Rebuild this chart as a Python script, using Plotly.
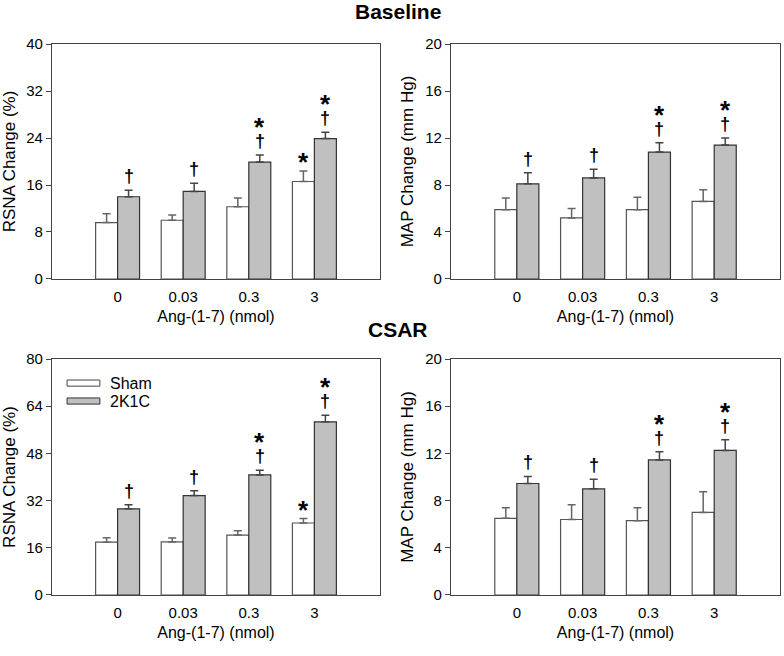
import plotly.graph_objects as go
from plotly.subplots import make_subplots

# Ang-(1-7) doses (nmol)
doses = ["0", "0.03", "0.3", "3"]

# Baseline - RSNA change (%)
base_rsna_sham = [9.6, 10.0, 12.3, 16.6]
base_rsna_sham_err = [1.5, 0.9, 1.5, 1.8]
base_rsna_2k1c = [14.0, 14.9, 19.9, 23.9]
base_rsna_2k1c_err = [1.1, 1.4, 1.2, 1.1]

# Baseline - MAP change (mm Hg)
base_map_sham = [5.9, 5.2, 5.9, 6.6]
base_map_sham_err = [1.0, 0.8, 1.05, 1.0]
base_map_2k1c = [8.1, 8.6, 10.8, 11.4]
base_map_2k1c_err = [0.95, 0.75, 0.8, 0.6]

# CSAR - RSNA change (%)
csar_rsna_sham = [17.9, 18.0, 20.3, 24.4]
csar_rsna_sham_err = [1.5, 1.3, 1.5, 1.5]
csar_rsna_2k1c = [29.2, 33.7, 40.7, 58.7]
csar_rsna_2k1c_err = [1.4, 1.6, 1.6, 2.2]

# CSAR - MAP change (mm Hg)
csar_map_sham = [6.5, 6.4, 6.3, 7.0]
csar_map_sham_err = [0.9, 1.25, 1.1, 1.75]
csar_map_2k1c = [9.45, 9.0, 11.45, 12.25]
csar_map_2k1c_err = [0.6, 0.8, 0.7, 0.9]

# significance marks: * vs 0 dose, † vs sham
sham_star_rsna = [False, False, False, True]
sham_star_map = [False, False, False, False]
k1c_star = [False, False, True, True]
k1c_dagger = [True, True, True, True]

FONT = "Liberation Sans, Arial, sans-serif"
BARGAP = 0.33
bar_w = (1 - BARGAP) / 2
pos = list(range(len(doses)))

panels = [
    # (row, col, sham, sham_err, k1c, k1c_err, ymax, ytitle, sham_star)
    (1, 1, base_rsna_sham, base_rsna_sham_err, base_rsna_2k1c, base_rsna_2k1c_err,
     40, "RSNA Change (%)", sham_star_rsna),
    (1, 2, base_map_sham, base_map_sham_err, base_map_2k1c, base_map_2k1c_err,
     20, "MAP Change (mm Hg)", sham_star_map),
    (2, 1, csar_rsna_sham, csar_rsna_sham_err, csar_rsna_2k1c, csar_rsna_2k1c_err,
     80, "RSNA Change (%)", sham_star_rsna),
    (2, 2, csar_map_sham, csar_map_sham_err, csar_map_2k1c, csar_map_2k1c_err,
     20, "MAP Change (mm Hg)", sham_star_map),
]

fig = make_subplots(rows=2, cols=2)

annotations = []
for idx, (r, c, sham, sham_err, k1c, k1c_err, ymax, ytitle, s_star) in enumerate(panels):
    fig.add_trace(go.Bar(
        x=pos, y=sham, name="Sham", offsetgroup="sham",
        marker=dict(color="white", line=dict(color="#555555", width=1.2)),
        error_y=dict(type="data", symmetric=False, array=sham_err,
                     arrayminus=[0] * len(sham), color="#666666",
                     thickness=1.5, width=4),
        showlegend=False,
    ), row=r, col=c)
    fig.add_trace(go.Bar(
        x=pos, y=k1c, name="2K1C", offsetgroup="k1c",
        marker=dict(color="#c0c0c0", line=dict(color="#333333", width=1.2)),
        error_y=dict(type="data", symmetric=False, array=k1c_err,
                     arrayminus=[0] * len(k1c), color="#444444",
                     thickness=1.5, width=4),
        showlegend=False,
    ), row=r, col=c)

    xref = "x" if idx == 0 else f"x{idx + 1}"
    yref = "y" if idx == 0 else f"y{idx + 1}"
    for i in pos:
        top_k = k1c[i] + k1c_err[i]
        top_s = sham[i] + sham_err[i]
        if k1c_dagger[i]:
            annotations.append(dict(
                x=i + bar_w / 2, y=top_k, xref=xref, yref=yref, text="<b>†</b>",
                showarrow=False, yanchor="bottom", yshift=2,
                font=dict(family=FONT, size=18, color="black")))
        if k1c_star[i]:
            annotations.append(dict(
                x=i + bar_w / 2, y=top_k, xref=xref, yref=yref, text="<b>*</b>",
                showarrow=False, yanchor="bottom", yshift=11,
                font=dict(family=FONT, size=26, color="black")))
        if s_star[i]:
            annotations.append(dict(
                x=i - bar_w / 2, y=top_s, xref=xref, yref=yref, text="<b>*</b>",
                showarrow=False, yanchor="bottom", yshift=-8,
                font=dict(family=FONT, size=26, color="black")))

    fig.update_yaxes(
        range=[0, ymax], dtick=ymax / 5, ticks="outside", ticklen=5,
        tickcolor="#444444", showline=True, linecolor="#444444", linewidth=1.2,
        mirror=True, showgrid=False, zeroline=False, automargin=False,
        title=dict(text=ytitle, font=dict(family=FONT, size=17, color="black"),
                   standoff=7),
        tickfont=dict(family=FONT, size=15, color="black"),
        row=r, col=c)
    fig.update_xaxes(
        range=[-1, 4], tickvals=pos, ticktext=doses, ticks="",
        ticklabelstandoff=4,
        showline=True, linecolor="#444444", linewidth=1.2, mirror=True,
        showgrid=False, zeroline=False, automargin=False,
        title=dict(text="Ang-(1-7) (nmol)", font=dict(family=FONT, size=16, color="black"),
                   standoff=6),
        tickfont=dict(family=FONT, size=15, color="black"),
        row=r, col=c)

# panel headers
for txt, yy in [("Baseline", 0.983), ("CSAR", 0.497)]:
    annotations.append(dict(
        x=0.508, y=yy, xref="paper", yref="paper", text=f"<b>{txt}</b>",
        showarrow=False, xanchor="center", yanchor="middle",
        font=dict(family="Liberation Sans Narrow, Arial Narrow, Liberation Sans", size=21,
                  color="black")))

# legend (inside CSAR RSNA panel)
shapes = []
for name, fill, line_col, yy in [("Sham", "white", "#444444", 0.898),
                                 ("2K1C", "#c0c0c0", "#333333", 0.822)]:
    shapes.append(dict(type="rect", xref="x3 domain", yref="y3 domain",
                       x0=0.046, x1=0.146, y0=yy - 0.013, y1=yy + 0.013,
                       fillcolor=fill, line=dict(color=line_col, width=1)))
    annotations.append(dict(x=0.17, y=yy, xref="x3 domain", yref="y3 domain",
                            text=name, showarrow=False, xanchor="left",
                            yanchor="middle",
                            font=dict(family=FONT, size=16, color="black")))

fig.update_layout(
    width=784, height=656,
    margin=dict(l=0, r=0, t=0, b=0),
    paper_bgcolor="white", plot_bgcolor="white",
    barmode="group", bargap=BARGAP, bargroupgap=0,
    annotations=annotations, shapes=shapes,
    xaxis=dict(domain=[0.0663, 0.4847]),
    xaxis2=dict(domain=[0.5753, 0.9949]),
    xaxis3=dict(domain=[0.0663, 0.4847]),
    xaxis4=dict(domain=[0.5753, 0.9949]),
    yaxis=dict(domain=[0.5747, 0.9329]),
    yaxis2=dict(domain=[0.5747, 0.9329]),
    yaxis3=dict(domain=[0.093, 0.4527]),
    yaxis4=dict(domain=[0.093, 0.4527]),
)

# drop the default page margin so the figure fills the window
fig.write_html("out.html", config={"displayModeBar": False},
               post_script="document.body.style.margin='0';document.body.style.overflow='hidden';")
